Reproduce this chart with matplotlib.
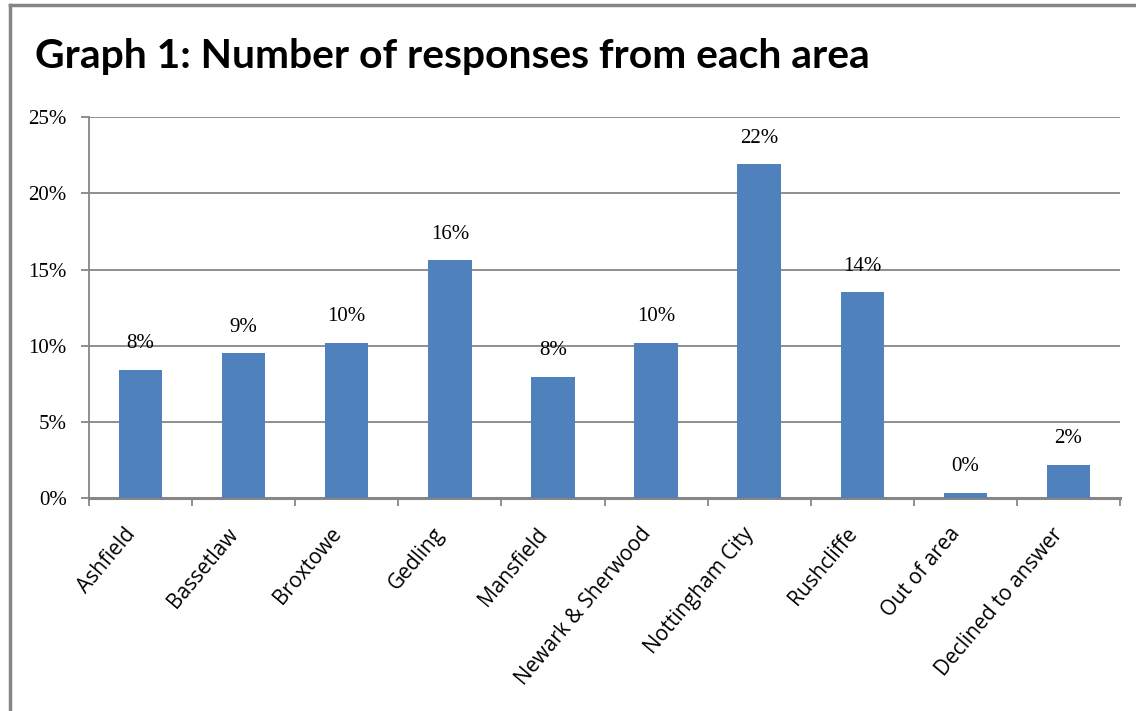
import matplotlib
matplotlib.use("Agg")
import matplotlib.pyplot as plt
from matplotlib.transforms import ScaledTranslation
import numpy as np

areas = ['Ashfield', 'Bassetlaw', 'Broxtowe', 'Gedling', 'Mansfield',
         'Newark & Sherwood', 'Nottingham City', 'Rushcliffe', 'Out of area',
         'Declined to answer']
share = [8.4, 9.5, 10.2, 15.6, 7.95, 10.2, 21.9, 13.5, 0.35, 2.2]
labels = ['8%', '9%', '10%', '16%', '8%', '10%', '22%', '14%', '0%', '2%']
yticks = [0, 5, 10, 15, 20, 25]

grey = '#868686'
blue = '#4F81BD'
W, H = 1136, 711

fig = plt.figure(figsize=(W / 100, H / 100), dpi=100)
ax = fig.add_axes([89 / W, 1 - 498.3 / H, (1120 - 89) / W, (498.3 - 117) / H])

x = np.arange(len(areas))
ax.bar(x, share, width=0.42, color=blue, zorder=3)
for xi, v, t in zip(x, share, labels):
    ax.text(xi, v + 1.1, t, ha='center', va='bottom', fontsize=15,
            family='Liberation Serif', zorder=4)

ax.set_xlim(-0.5, len(areas) - 0.5)
ax.set_ylim(0, 25)
ax.set_yticks(yticks)
ax.set_yticklabels([f'{t}%' for t in yticks], family='Liberation Serif', fontsize=15)
ax.yaxis.grid(True, color=grey, linewidth=1.3)
ax.set_axisbelow(True)
ax.tick_params(axis='y', length=6, width=1.3, color=grey, pad=10)

ax.set_xticks(x)
ax.set_xticklabels(areas, rotation=50, ha='right', rotation_mode='anchor',
                   family='Open Sans', fontsize=15)
ax.tick_params(axis='x', which='major', length=0, pad=14)
ax.set_xticks(np.arange(-0.5, len(areas), 1.0), minor=True)
ax.tick_params(axis='x', which='minor', length=6, width=1.3, color=grey)
shift = ScaledTranslation(-0.17, -0.06, fig.dpi_scale_trans)
for lab in ax.get_xticklabels():
    lab.set_transform(lab.get_transform() + shift)

for s in ['top', 'right']:
    ax.spines[s].set_visible(False)
ax.spines['left'].set_color(grey)
ax.spines['bottom'].set_color(grey)
ax.spines['left'].set_linewidth(1.3)
ax.spines['bottom'].set_linewidth(2.2)

# chart frame
fig.add_artist(plt.Line2D([10 / W, 10 / W], [0, 1 - 5 / H], color=grey, linewidth=2.5))
fig.add_artist(plt.Line2D([10 / W, 1], [1 - 5 / H, 1 - 5 / H], color=grey, linewidth=2.5))

title = fig.text(35 / W, 1 - 68 / H, 'Graph 1: Number of responses from each area',
                 fontsize=32, fontweight='bold', family='Lato', va='baseline')
# squeeze the title to the width it takes in the original
r = fig.canvas.get_renderer()
w = title.get_window_extent(r).width
title.set_fontsize(32 * 838 / w)

fig.savefig('out.png', dpi=100)
